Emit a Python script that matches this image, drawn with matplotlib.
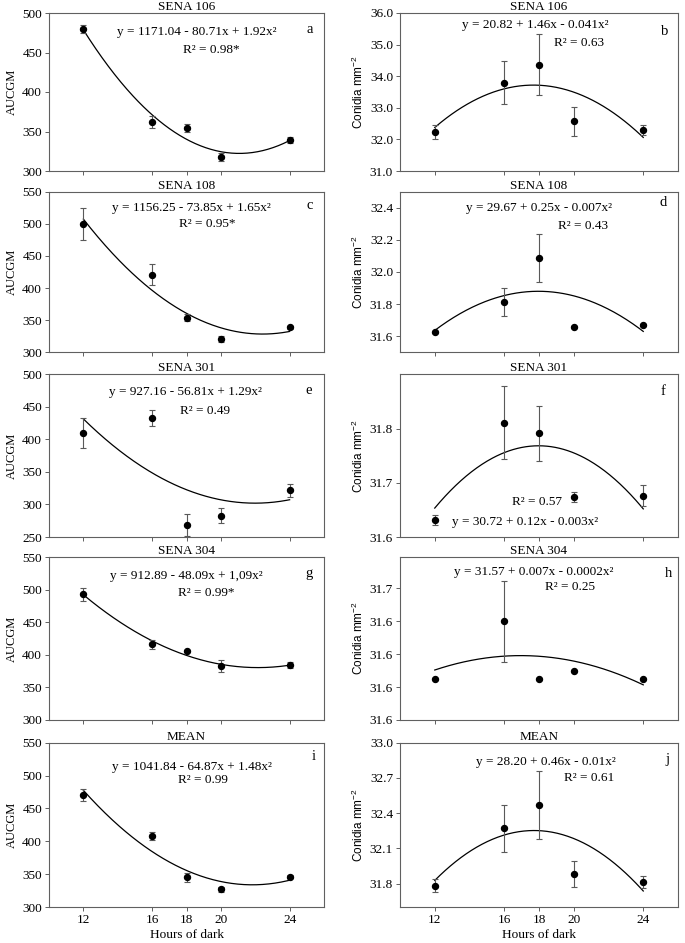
import numpy as np
import matplotlib
matplotlib.use("Agg")
import matplotlib.pyplot as plt

plt.rcParams['font.family'] = ['Liberation Serif', 'DejaVu Serif']
plt.rcParams['mathtext.fontset'] = 'custom'
plt.rcParams['mathtext.rm'] = 'Liberation Sans'
plt.rcParams['mathtext.it'] = 'Liberation Sans'

# hours of dark (x)
hours = [12, 16, 18, 20, 24]

# AUCGM panels (left column)
aucgm_106 = [480, 362, 354, 318, 339]
aucgm_106_err = [5, 7, 5, 5, 4]
aucgm_108 = [500, 421, 354, 321, 339]
aucgm_108_err = [25, 17, 6, 5, 2]
aucgm_301 = [410, 433, 269, 283, 322]
aucgm_301_err = [23, 12, 17, 11, 10]
aucgm_304 = [493, 416, 406, 383, 384]
aucgm_304_err = [10, 7, 2, 9, 5]
aucgm_mean = [471, 408, 345, 327, 346]
aucgm_mean_err = [9, 6, 7, 4, 2]

# Conidia panels (right column)
con_106 = [32.23, 33.80, 34.36, 32.57, 32.29]
con_106_err = [0.22, 0.68, 0.96, 0.46, 0.16]
con_108 = [31.624, 31.812, 32.087, 31.660, 31.668]
con_108_err = [0.002, 0.088, 0.147, 0.004, 0.006]
con_301 = [31.632, 31.811, 31.791, 31.674, 31.676]
con_301_err = [0.009, 0.068, 0.050, 0.009, 0.019]
con_304 = [31.605, 31.640, 31.605, 31.610, 31.605]
con_304_err = [0.0, 0.0245, 0.0, 0.0, 0.0]
con_mean = [31.78, 32.27, 32.47, 31.88, 31.81]
con_mean_err = [0.055, 0.20, 0.29, 0.11, 0.05]

titles = ["SENA 106", "SENA 106", "SENA 108", "SENA 108", "SENA 301",
          "SENA 301", "SENA 304", "SENA 304", "MEAN", "MEAN"]
letters = ["a", "b", "c", "d", "e", "f", "g", "h", "i", "j"]
equations = ["y = 1171.04 - 80.71x + 1.92x²",
             "y = 20.82 + 1.46x - 0.041x²",
             "y = 1156.25 - 73.85x + 1.65x²",
             "y = 29.67 + 0.25x - 0.007x²",
             "y = 927.16 - 56.81x + 1.29x²",
             "y = 30.72 + 0.12x - 0.003x²",
             "y = 912.89 - 48.09x + 1,09x²",
             "y = 31.57 + 0.007x - 0.0002x²",
             "y = 1041.84 - 64.87x + 1.48x²",
             "y = 28.20 + 0.46x - 0.01x²"]
r2_text = ["R² = 0.98*", "R² = 0.63", "R² = 0.95*", "R² = 0.43", "R² = 0.49",
           "R² = 0.57", "R² = 0.99*", "R² = 0.25", "R² = 0.99", "R² = 0.61"]

means = [aucgm_106, con_106, aucgm_108, con_108, aucgm_301,
         con_301, aucgm_304, con_304, aucgm_mean, con_mean]
errs = [aucgm_106_err, con_106_err, aucgm_108_err, con_108_err, aucgm_301_err,
        con_301_err, aucgm_304_err, con_304_err, aucgm_mean_err, con_mean_err]

# y axis settings per panel
ylims = [(300, 500), (31, 36), (300, 550), (31.5, 32.5), (250, 500),
         (31.6, 31.9), (300, 550), (31.58, 31.679), (300, 550), (31.6, 33.0)]
yticks = [[300, 350, 400, 450, 500],
          [31, 32, 33, 34, 35, 36],
          [300, 350, 400, 450, 500, 550],
          [31.6, 31.8, 32.0, 32.2, 32.4],
          [250, 300, 350, 400, 450, 500],
          [31.6, 31.7, 31.8],
          [300, 350, 400, 450, 500, 550],
          [31.58, 31.60, 31.62, 31.64, 31.66],
          [300, 350, 400, 450, 500, 550],
          [31.8, 32.1, 32.4, 32.7, 33.0]]
yticklabels = [None, ["31.0", "32.0", "33.0", "34.0", "35.0", "36.0"],
               None, ["31.6", "31.8", "32.0", "32.2", "32.4"],
               None, ["31.6", "31.7", "31.8"],
               None, ["31.6", "31.6", "31.6", "31.6", "31.7"],
               None, ["31.8", "32.1", "32.4", "32.7", "33.0"]]

# text placement (axes fraction): equation, R2, letter
eq_pos = [(0.538, 0.88), (0.486, 0.924), (0.516, 0.897), (0.50, 0.897), (0.495, 0.893),
          (0.45, 0.095), (0.50, 0.881), (0.48, 0.908), (0.519, 0.853), (0.525, 0.885)]
r2_pos = [(0.589, 0.766), (0.644, 0.808), (0.576, 0.797), (0.66, 0.786), (0.567, 0.774),
          (0.494, 0.213), (0.573, 0.779), (0.61, 0.816), (0.561, 0.772), (0.68, 0.784)]
let_pos = [(0.947, 0.897), (0.953, 0.88), (0.949, 0.917), (0.947, 0.93), (0.943, 0.903),
           (0.947, 0.892), (0.947, 0.90), (0.965, 0.898), (0.961, 0.914), (0.963, 0.895)]

W, H = 685, 943
col_x = [(49, 324), (400, 678)]
rows = [(13, 171), (191.7, 352.3), (374.3, 537), (557, 720), (742.7, 907)]

fig = plt.figure(figsize=(W / 100, H / 100), dpi=100)
spine_col = '#606060'

for k in range(10):
    r, c = k // 2, k % 2
    x0, x1 = col_x[c]
    t, b = rows[r]
    ax = fig.add_axes([x0 / W, 1 - b / H, (x1 - x0) / W, (b - t) / H])

    # quadratic regression curve
    coef = np.polyfit(hours, means[k], 2)
    xs = np.linspace(12, 24, 200)
    ax.plot(xs, np.polyval(coef, xs), color='black', lw=0.9, zorder=2)

    ax.errorbar(hours, means[k], yerr=errs[k], fmt='o', color='black', ms=4.3,
                ecolor='0.35', elinewidth=0.8, capsize=2.5, capthick=0.8, zorder=3)

    ax.set_xlim(10, 26)
    ax.set_ylim(*ylims[k])
    ax.set_xticks(hours)
    ax.set_yticks(yticks[k])
    if yticklabels[k] is not None:
        ax.set_yticklabels(yticklabels[k])
    if r < 4:
        ax.set_xticklabels([])
    else:
        ax.set_xlabel("Hours of dark", fontsize=9.5, labelpad=2)
    ax.tick_params(direction='out', length=3, width=0.7, colors=spine_col,
                   labelcolor='black', labelsize=9.5, pad=2)
    for s in ax.spines.values():
        s.set_color(spine_col)
        s.set_linewidth(0.8)

    ax.set_title(titles[k], fontsize=9.5, pad=1.5)
    if c == 0:
        ax.set_ylabel("AUCGM", fontsize=9, labelpad=3)
    else:
        ax.set_ylabel(r"Conidia mm$^{-2}$", fontsize=8.5, family='Liberation Sans', labelpad=3)

    ax.text(*eq_pos[k], equations[k], transform=ax.transAxes, ha='center', va='center', fontsize=9.5)
    ax.text(*r2_pos[k], r2_text[k], transform=ax.transAxes, ha='center', va='center', fontsize=9.5)
    ax.text(*let_pos[k], letters[k], transform=ax.transAxes, ha='center', va='center', fontsize=10.5)

fig.savefig("out.png", dpi=100)
